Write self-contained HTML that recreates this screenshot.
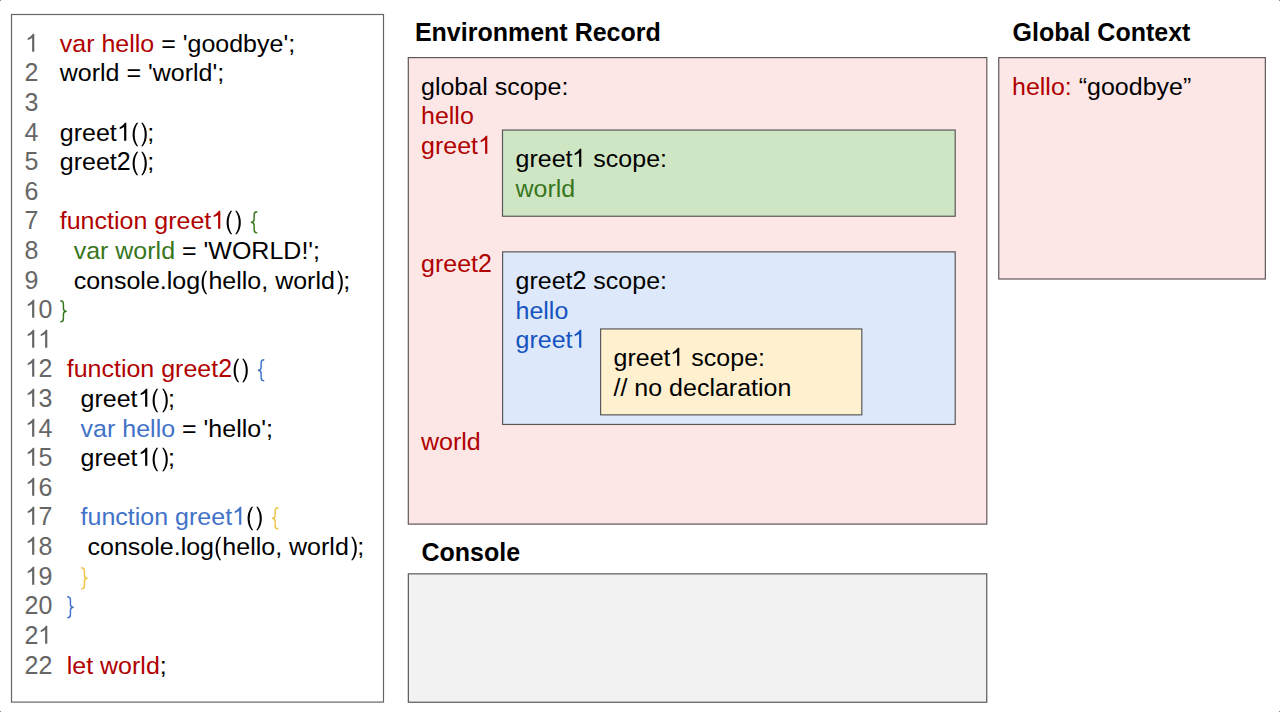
<!DOCTYPE html>
<html><head><meta charset="utf-8">
<style>
html,body{margin:0;padding:0;background:#fff;}
body{width:1280px;height:712px;position:relative;overflow:hidden;font-family:"Liberation Sans",sans-serif;font-size:25px;color:#000;}
svg.bg{position:absolute;left:0;top:0;}
.t{position:absolute;white-space:pre;line-height:30.8333px;transform:scaleY(0.96);transform-origin:0 0;}
.h{position:absolute;white-space:pre;font-weight:bold;line-height:30px;}
.d{display:inline-block;transform:scaleY(1.0416667);transform-origin:0 24px;}
svg.par{width:8.3301px;height:24.44px;vertical-align:-5.48px;fill:currentColor;overflow:visible}
svg.brc{width:8.3496px;height:24.44px;vertical-align:-5.48px;overflow:visible}
svg.one{width:13.904px;height:18.642px;vertical-align:baseline;fill:currentColor;overflow:visible}
.n{color:#666;position:relative;left:-0.5px}
.r{color:#b00000}
.g{color:#38761d}
.b{color:#4272c8}
.b2{color:#1553c0}
.y{color:#efc445}
</style></head><body>
<svg class="bg" width="1280" height="712" viewBox="0 0 1280 712">
  <rect x="0" y="0" width="1" height="1" fill="#888"/><rect x="1279" y="0" width="1" height="1" fill="#888"/><rect x="0" y="711" width="1" height="1" fill="#888"/><rect x="1279" y="711" width="1" height="1" fill="#888"/>
  <rect x="11.5" y="14.5" width="372" height="687.6" fill="#fff" stroke="#666" stroke-width="1.2"/>
  <rect x="408.3" y="57.6" width="578.5" height="466.5" fill="#fde7e6" stroke="#5f5858" stroke-width="1.2"/>
  <rect x="502.5" y="130.05" width="452.7" height="86.2" fill="#cfe6c5" stroke="#595959" stroke-width="1.2"/>
  <rect x="502.6" y="251.85" width="452.6" height="172.6" fill="#dde9fa" stroke="#595959" stroke-width="1.2"/>
  <rect x="600.6" y="328.95" width="261.2" height="85.9" fill="#fff1cf" stroke="#595959" stroke-width="1.2"/>
  <rect x="998.75" y="57.65" width="266.6" height="221.35" fill="#fde7e6" stroke="#5f5858" stroke-width="1.2"/>
  <rect x="408.35" y="573.85" width="578.4" height="128.4" fill="#f2f2f2" stroke="#595959" stroke-width="1.2"/>
</svg>
<div class="t" style="left:25px;top:29px"><span class="n"><svg class="one" viewBox="0 -1466 1139 1466" preserveAspectRatio="none"><path transform="scale(1,-1)" d="M763 0H583V1147Q500 1070 390 1010Q300 960 223 930V1104Q380 1180 490 1280Q600 1380 647 1466H763Z"/></svg></span>   <span class="r">var hello</span> = 'goodbye';</div>
<div class="t" style="left:25px;top:58px"><span class="n"><span class="d">2</span></span>   world = 'world';</div>
<div class="t" style="left:25px;top:88px"><span class="n"><span class="d">3</span></span></div>
<div class="t" style="left:25px;top:118px"><span class="n"><span class="d">4</span></span>   greet<svg class="one" viewBox="0 -1466 1139 1466" preserveAspectRatio="none"><path transform="scale(1,-1)" d="M763 0H583V1147Q500 1070 390 1010Q300 960 223 930V1104Q380 1180 490 1280Q600 1380 647 1466H763Z"/></svg><svg class="par" viewBox="0 -1491 682 1922" preserveAspectRatio="none"><path transform="scale(1,-1)" d="M465 1491Q130 1100 130 530Q130 -40 465 -431H590Q300 -40 300 530Q300 1100 590 1491Z"/></svg><svg class="par" viewBox="0 -1491 682 1922" preserveAspectRatio="none"><path transform="scale(1,-1)" d="M305 1491Q640 1100 640 530Q640 -40 305 -431H180Q470 -40 470 530Q470 1100 180 1491Z"/></svg>;</div>
<div class="t" style="left:25px;top:147px"><span class="n"><span class="d">5</span></span>   greet<span class="d">2</span><svg class="par" viewBox="0 -1491 682 1922" preserveAspectRatio="none"><path transform="scale(1,-1)" d="M465 1491Q130 1100 130 530Q130 -40 465 -431H590Q300 -40 300 530Q300 1100 590 1491Z"/></svg><svg class="par" viewBox="0 -1491 682 1922" preserveAspectRatio="none"><path transform="scale(1,-1)" d="M305 1491Q640 1100 640 530Q640 -40 305 -431H180Q470 -40 470 530Q470 1100 180 1491Z"/></svg>;</div>
<div class="t" style="left:25px;top:177px"><span class="n"><span class="d">6</span></span></div>
<div class="t" style="left:25px;top:206px"><span class="n"><span class="d">7</span></span>   <span class="r">function greet<svg class="one" viewBox="0 -1466 1139 1466" preserveAspectRatio="none"><path transform="scale(1,-1)" d="M763 0H583V1147Q500 1070 390 1010Q300 960 223 930V1104Q380 1180 490 1280Q600 1380 647 1466H763Z"/></svg></span><svg class="par" viewBox="0 -1491 682 1922" preserveAspectRatio="none"><path transform="scale(1,-1)" d="M465 1491Q130 1100 130 530Q130 -40 465 -431H590Q300 -40 300 530Q300 1100 590 1491Z"/></svg><svg class="par" viewBox="0 -1491 682 1922" preserveAspectRatio="none"><path transform="scale(1,-1)" d="M305 1491Q640 1100 640 530Q640 -40 305 -431H180Q470 -40 470 530Q470 1100 180 1491Z"/></svg> <span class="g"><svg class="brc" viewBox="0 -1491 684 1922" preserveAspectRatio="none"><path transform="scale(1,-1)" fill="none" stroke="currentColor" stroke-width="120" stroke-linejoin="round" d="M680 1415Q420 1415 420 1160L420 800Q420 575 200 549Q420 523 420 298L420 -62Q420 -317 680 -317"/></svg></span></div>
<div class="t" style="left:25px;top:236px"><span class="n"><span class="d">8</span></span>     <span class="g">var world</span> = 'WORLD!';</div>
<div class="t" style="left:25px;top:266px"><span class="n"><span class="d">9</span></span>     console.log<svg class="par" viewBox="0 -1491 682 1922" preserveAspectRatio="none"><path transform="scale(1,-1)" d="M465 1491Q130 1100 130 530Q130 -40 465 -431H590Q300 -40 300 530Q300 1100 590 1491Z"/></svg>hello, world<svg class="par" viewBox="0 -1491 682 1922" preserveAspectRatio="none"><path transform="scale(1,-1)" d="M305 1491Q640 1100 640 530Q640 -40 305 -431H180Q470 -40 470 530Q470 1100 180 1491Z"/></svg>;</div>
<div class="t" style="left:25px;top:295px"><span class="n"><svg class="one" viewBox="0 -1466 1139 1466" preserveAspectRatio="none"><path transform="scale(1,-1)" d="M763 0H583V1147Q500 1070 390 1010Q300 960 223 930V1104Q380 1180 490 1280Q600 1380 647 1466H763Z"/></svg><span class="d">0</span></span> <span class="g"><svg class="brc" viewBox="0 -1491 684 1922" preserveAspectRatio="none"><path transform="scale(1,-1)" fill="none" stroke="currentColor" stroke-width="120" stroke-linejoin="round" d="M20 1415Q280 1415 280 1160L280 800Q280 575 500 549Q280 523 280 298L280 -62Q280 -317 20 -317"/></svg></span></div>
<div class="t" style="left:25px;top:325px"><span class="n"><svg class="one" viewBox="0 -1466 1139 1466" preserveAspectRatio="none"><path transform="scale(1,-1)" d="M763 0H583V1147Q500 1070 390 1010Q300 960 223 930V1104Q380 1180 490 1280Q600 1380 647 1466H763Z"/></svg><svg class="one" viewBox="0 -1466 1139 1466" preserveAspectRatio="none"><path transform="scale(1,-1)" d="M763 0H583V1147Q500 1070 390 1010Q300 960 223 930V1104Q380 1180 490 1280Q600 1380 647 1466H763Z"/></svg></span></div>
<div class="t" style="left:25px;top:354px"><span class="n"><svg class="one" viewBox="0 -1466 1139 1466" preserveAspectRatio="none"><path transform="scale(1,-1)" d="M763 0H583V1147Q500 1070 390 1010Q300 960 223 930V1104Q380 1180 490 1280Q600 1380 647 1466H763Z"/></svg><span class="d">2</span></span>  <span class="r">function greet<span class="d">2</span></span><svg class="par" viewBox="0 -1491 682 1922" preserveAspectRatio="none"><path transform="scale(1,-1)" d="M465 1491Q130 1100 130 530Q130 -40 465 -431H590Q300 -40 300 530Q300 1100 590 1491Z"/></svg><svg class="par" viewBox="0 -1491 682 1922" preserveAspectRatio="none"><path transform="scale(1,-1)" d="M305 1491Q640 1100 640 530Q640 -40 305 -431H180Q470 -40 470 530Q470 1100 180 1491Z"/></svg> <span class="b"><svg class="brc" viewBox="0 -1491 684 1922" preserveAspectRatio="none"><path transform="scale(1,-1)" fill="none" stroke="currentColor" stroke-width="120" stroke-linejoin="round" d="M680 1415Q420 1415 420 1160L420 800Q420 575 200 549Q420 523 420 298L420 -62Q420 -317 680 -317"/></svg></span></div>
<div class="t" style="left:25px;top:384px"><span class="n"><svg class="one" viewBox="0 -1466 1139 1466" preserveAspectRatio="none"><path transform="scale(1,-1)" d="M763 0H583V1147Q500 1070 390 1010Q300 960 223 930V1104Q380 1180 490 1280Q600 1380 647 1466H763Z"/></svg><span class="d">3</span></span>    greet<svg class="one" viewBox="0 -1466 1139 1466" preserveAspectRatio="none"><path transform="scale(1,-1)" d="M763 0H583V1147Q500 1070 390 1010Q300 960 223 930V1104Q380 1180 490 1280Q600 1380 647 1466H763Z"/></svg><svg class="par" viewBox="0 -1491 682 1922" preserveAspectRatio="none"><path transform="scale(1,-1)" d="M465 1491Q130 1100 130 530Q130 -40 465 -431H590Q300 -40 300 530Q300 1100 590 1491Z"/></svg><svg class="par" viewBox="0 -1491 682 1922" preserveAspectRatio="none"><path transform="scale(1,-1)" d="M305 1491Q640 1100 640 530Q640 -40 305 -431H180Q470 -40 470 530Q470 1100 180 1491Z"/></svg>;</div>
<div class="t" style="left:25px;top:414px"><span class="n"><svg class="one" viewBox="0 -1466 1139 1466" preserveAspectRatio="none"><path transform="scale(1,-1)" d="M763 0H583V1147Q500 1070 390 1010Q300 960 223 930V1104Q380 1180 490 1280Q600 1380 647 1466H763Z"/></svg><span class="d">4</span></span>    <span class="b">var hello</span> = 'hello';</div>
<div class="t" style="left:25px;top:443px"><span class="n"><svg class="one" viewBox="0 -1466 1139 1466" preserveAspectRatio="none"><path transform="scale(1,-1)" d="M763 0H583V1147Q500 1070 390 1010Q300 960 223 930V1104Q380 1180 490 1280Q600 1380 647 1466H763Z"/></svg><span class="d">5</span></span>    greet<svg class="one" viewBox="0 -1466 1139 1466" preserveAspectRatio="none"><path transform="scale(1,-1)" d="M763 0H583V1147Q500 1070 390 1010Q300 960 223 930V1104Q380 1180 490 1280Q600 1380 647 1466H763Z"/></svg><svg class="par" viewBox="0 -1491 682 1922" preserveAspectRatio="none"><path transform="scale(1,-1)" d="M465 1491Q130 1100 130 530Q130 -40 465 -431H590Q300 -40 300 530Q300 1100 590 1491Z"/></svg><svg class="par" viewBox="0 -1491 682 1922" preserveAspectRatio="none"><path transform="scale(1,-1)" d="M305 1491Q640 1100 640 530Q640 -40 305 -431H180Q470 -40 470 530Q470 1100 180 1491Z"/></svg>;</div>
<div class="t" style="left:25px;top:473px"><span class="n"><svg class="one" viewBox="0 -1466 1139 1466" preserveAspectRatio="none"><path transform="scale(1,-1)" d="M763 0H583V1147Q500 1070 390 1010Q300 960 223 930V1104Q380 1180 490 1280Q600 1380 647 1466H763Z"/></svg><span class="d">6</span></span></div>
<div class="t" style="left:25px;top:502px"><span class="n"><svg class="one" viewBox="0 -1466 1139 1466" preserveAspectRatio="none"><path transform="scale(1,-1)" d="M763 0H583V1147Q500 1070 390 1010Q300 960 223 930V1104Q380 1180 490 1280Q600 1380 647 1466H763Z"/></svg><span class="d">7</span></span>    <span class="b">function greet<svg class="one" viewBox="0 -1466 1139 1466" preserveAspectRatio="none"><path transform="scale(1,-1)" d="M763 0H583V1147Q500 1070 390 1010Q300 960 223 930V1104Q380 1180 490 1280Q600 1380 647 1466H763Z"/></svg></span><svg class="par" viewBox="0 -1491 682 1922" preserveAspectRatio="none"><path transform="scale(1,-1)" d="M465 1491Q130 1100 130 530Q130 -40 465 -431H590Q300 -40 300 530Q300 1100 590 1491Z"/></svg><svg class="par" viewBox="0 -1491 682 1922" preserveAspectRatio="none"><path transform="scale(1,-1)" d="M305 1491Q640 1100 640 530Q640 -40 305 -431H180Q470 -40 470 530Q470 1100 180 1491Z"/></svg> <span class="y"><svg class="brc" viewBox="0 -1491 684 1922" preserveAspectRatio="none"><path transform="scale(1,-1)" fill="none" stroke="currentColor" stroke-width="120" stroke-linejoin="round" d="M680 1415Q420 1415 420 1160L420 800Q420 575 200 549Q420 523 420 298L420 -62Q420 -317 680 -317"/></svg></span></div>
<div class="t" style="left:25px;top:532px"><span class="n"><svg class="one" viewBox="0 -1466 1139 1466" preserveAspectRatio="none"><path transform="scale(1,-1)" d="M763 0H583V1147Q500 1070 390 1010Q300 960 223 930V1104Q380 1180 490 1280Q600 1380 647 1466H763Z"/></svg><span class="d">8</span></span>     console.log<svg class="par" viewBox="0 -1491 682 1922" preserveAspectRatio="none"><path transform="scale(1,-1)" d="M465 1491Q130 1100 130 530Q130 -40 465 -431H590Q300 -40 300 530Q300 1100 590 1491Z"/></svg>hello, world<svg class="par" viewBox="0 -1491 682 1922" preserveAspectRatio="none"><path transform="scale(1,-1)" d="M305 1491Q640 1100 640 530Q640 -40 305 -431H180Q470 -40 470 530Q470 1100 180 1491Z"/></svg>;</div>
<div class="t" style="left:25px;top:562px"><span class="n"><svg class="one" viewBox="0 -1466 1139 1466" preserveAspectRatio="none"><path transform="scale(1,-1)" d="M763 0H583V1147Q500 1070 390 1010Q300 960 223 930V1104Q380 1180 490 1280Q600 1380 647 1466H763Z"/></svg><span class="d">9</span></span>    <span class="y"><svg class="brc" viewBox="0 -1491 684 1922" preserveAspectRatio="none"><path transform="scale(1,-1)" fill="none" stroke="currentColor" stroke-width="120" stroke-linejoin="round" d="M20 1415Q280 1415 280 1160L280 800Q280 575 500 549Q280 523 280 298L280 -62Q280 -317 20 -317"/></svg></span></div>
<div class="t" style="left:25px;top:591px"><span class="n"><span class="d">2</span><span class="d">0</span></span>  <span class="b"><svg class="brc" viewBox="0 -1491 684 1922" preserveAspectRatio="none"><path transform="scale(1,-1)" fill="none" stroke="currentColor" stroke-width="120" stroke-linejoin="round" d="M20 1415Q280 1415 280 1160L280 800Q280 575 500 549Q280 523 280 298L280 -62Q280 -317 20 -317"/></svg></span></div>
<div class="t" style="left:25px;top:621px"><span class="n"><span class="d">2</span><svg class="one" viewBox="0 -1466 1139 1466" preserveAspectRatio="none"><path transform="scale(1,-1)" d="M763 0H583V1147Q500 1070 390 1010Q300 960 223 930V1104Q380 1180 490 1280Q600 1380 647 1466H763Z"/></svg></span></div>
<div class="t" style="left:25px;top:651px"><span class="n"><span class="d">2</span><span class="d">2</span></span>  <span class="r">let world</span>;</div>
<div class="h" style="left:414.9px;top:17px">Environment Record</div>
<div class="h" style="left:1012.6px;top:17px">Global Context</div>
<div class="h" style="left:421.5px;top:537px">Console</div>
<div class="t" style="left:421px;top:72px">global scope:</div>
<div class="t" style="left:421px;top:101px"><span class="r">hello</span></div>
<div class="t" style="left:421px;top:131px"><span class="r">greet<svg class="one" viewBox="0 -1466 1139 1466" preserveAspectRatio="none"><path transform="scale(1,-1)" d="M763 0H583V1147Q500 1070 390 1010Q300 960 223 930V1104Q380 1180 490 1280Q600 1380 647 1466H763Z"/></svg></span></div>
<div class="t" style="left:421px;top:249px"><span class="r">greet<span class="d">2</span></span></div>
<div class="t" style="left:421px;top:427px"><span class="r">world</span></div>
<div class="t" style="left:515.5px;top:144px">greet<svg class="one" viewBox="0 -1466 1139 1466" preserveAspectRatio="none"><path transform="scale(1,-1)" d="M763 0H583V1147Q500 1070 390 1010Q300 960 223 930V1104Q380 1180 490 1280Q600 1380 647 1466H763Z"/></svg> scope:</div>
<div class="t" style="left:515.5px;top:174px"><span class="g">world</span></div>
<div class="t" style="left:515.5px;top:266px">greet<span class="d">2</span> scope:</div>
<div class="t" style="left:515.5px;top:296px"><span class="b2">hello</span></div>
<div class="t" style="left:515.5px;top:325px"><span class="b2">greet<svg class="one" viewBox="0 -1466 1139 1466" preserveAspectRatio="none"><path transform="scale(1,-1)" d="M763 0H583V1147Q500 1070 390 1010Q300 960 223 930V1104Q380 1180 490 1280Q600 1380 647 1466H763Z"/></svg></span></div>
<div class="t" style="left:613.5px;top:343px">greet<svg class="one" viewBox="0 -1466 1139 1466" preserveAspectRatio="none"><path transform="scale(1,-1)" d="M763 0H583V1147Q500 1070 390 1010Q300 960 223 930V1104Q380 1180 490 1280Q600 1380 647 1466H763Z"/></svg> scope:</div>
<div class="t" style="left:613.5px;top:373px">// no declaration</div>
<div class="t" style="left:1012px;top:72px"><span class="r">hello:</span> “goodbye”</div>
</body></html>
